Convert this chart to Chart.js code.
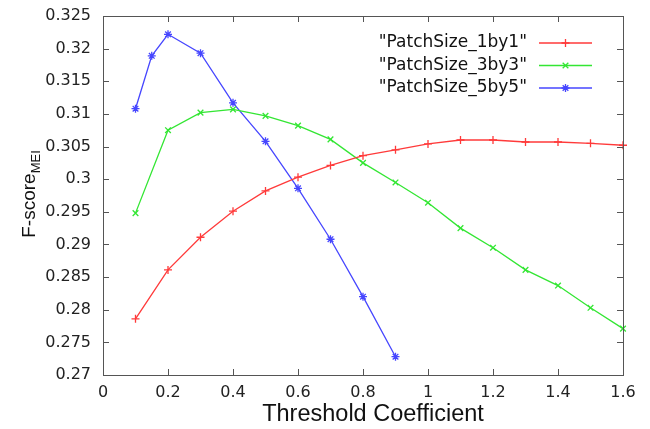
<!DOCTYPE html>
<html>
<head>
<meta charset="utf-8">
<script src="https://cdn.jsdelivr.net/npm/chart.js@4/dist/chart.umd.min.js"></script>
<style>
  html, body { margin: 0; padding: 0; background: #fff; }
</style>
</head>
<body>
<canvas id="chart" width="650" height="429"></canvas>
<script>
'use strict';
// values
var thresholds = [0.1, 0.2, 0.3, 0.4, 0.5, 0.6, 0.7, 0.8, 0.9, 1.0, 1.1, 1.2, 1.3, 1.4, 1.5, 1.6];
var patch1by1 = [0.2786, 0.2861, 0.2911, 0.2951, 0.2982, 0.3003, 0.3021, 0.3036, 0.3045, 0.3054, 0.3060, 0.3060, 0.3057, 0.3057, 0.3055, 0.3052];
var patch3by3 = [0.2948, 0.3075, 0.3102, 0.3107, 0.3097, 0.3082, 0.3061, 0.3025, 0.2995, 0.2964, 0.2925, 0.2895, 0.2861, 0.2837, 0.2803, 0.2771];
var thresholds5 = [0.1, 0.15, 0.2, 0.3, 0.4, 0.5, 0.6, 0.7, 0.8, 0.9];
var patch5by5 = [0.3108, 0.3189, 0.3222, 0.3193, 0.3117, 0.3058, 0.2986, 0.2908, 0.2820, 0.2728];
var seriesLabels = ['"PatchSize_1by1"', '"PatchSize_3by3"', '"PatchSize_5by5"'];
var xTitle = 'Threshold Coefficient';
var yTitle = 'F-score';
var yTitleSub = 'MEI';

function toPoints(xs, ys) {
    return xs.map((x, i) => ({ x: x, y: ys[i] }));
}

function fmt(v) {
    return String(+v.toFixed(4));
}

let makeSet = (label, xs, ys, color, style) => ({
    label: label,
    data: toPoints(xs, ys),
    showLine: true,
    borderColor: color,
    backgroundColor: color,
    borderWidth: 1.3,
    pointStyle: style,
    pointRadius: 4,
    pointBorderWidth: 1.3,
    clip: false
});

// box round the plot with inward ticks, axis titles and legend
const framePlugin = {
    id: 'frame',
    afterDraw(chart) {
        const ctx = chart.ctx;
        const a = chart.chartArea;
        const xs = chart.scales.x, ys = chart.scales.y;
        ctx.save();
        ctx.strokeStyle = '#555';
        ctx.lineWidth = 1;
        ctx.strokeRect(Math.round(a.left) + 0.5, Math.round(a.top) + 0.5,
            Math.round(a.right - a.left), Math.round(a.bottom - a.top));
        ctx.beginPath();
        xs.ticks.forEach(t => {
            let px = Math.round(xs.getPixelForValue(t.value)) + 0.5;
            ctx.moveTo(px, a.bottom); ctx.lineTo(px, a.bottom - 6);
            ctx.moveTo(px, a.top); ctx.lineTo(px, a.top + 6);
        });
        ys.ticks.forEach(t => {
            let py = Math.round(ys.getPixelForValue(t.value)) + 0.5;
            ctx.moveTo(a.left, py); ctx.lineTo(a.left + 6, py);
            ctx.moveTo(a.right, py); ctx.lineTo(a.right - 6, py);
        });
        ctx.stroke();

        // x title
        ctx.fillStyle = '#111';
        ctx.textAlign = 'center';
        ctx.textBaseline = 'middle';
        ctx.font = '23.5px "Liberation Sans", Arial, sans-serif';
        ctx.fillText(xTitle, 373, 415);

        // y title with subscript
        ctx.textAlign = 'left';
        ctx.textBaseline = 'alphabetic';
        ctx.translate(28, 194);
        ctx.rotate(-Math.PI / 2);
        ctx.font = '19px "Liberation Sans", Arial, sans-serif';
        let w1 = ctx.measureText(yTitle).width;
        ctx.font = '13px "Liberation Sans", Arial, sans-serif';
        let w2 = ctx.measureText(yTitleSub).width;
        let x0 = -(w1 + w2) / 2;
        ctx.font = '19px "Liberation Sans", Arial, sans-serif';
        ctx.fillText(yTitle, x0, 7);
        ctx.font = '13px "Liberation Sans", Arial, sans-serif';
        ctx.fillText(yTitleSub, x0 + w1, 12);
        ctx.restore();

        // legend inside the plot, text right aligned, sample on the right
        ctx.save();
        ctx.font = '17px "DejaVu Sans", sans-serif';
        ctx.textAlign = 'right';
        ctx.textBaseline = 'middle';
        chart.data.datasets.forEach((ds, i) => {
            let y = 43 + i * 22.5;
            ctx.fillStyle = '#111';
            ctx.fillText(ds.label, 527, y);
            ctx.strokeStyle = ds.borderColor;
            ctx.fillStyle = ds.borderColor;
            ctx.lineWidth = ds.borderWidth;
            ctx.beginPath();
            ctx.moveTo(539, y); ctx.lineTo(592, y);
            ctx.stroke();
            Chart.helpers.drawPoint(ctx, {
                pointStyle: ds.pointStyle, radius: ds.pointRadius, rotation: 0, borderWidth: ds.pointBorderWidth
            }, 565.5, y);
        });
        ctx.restore();
    }
};

let config = {
    type: 'scatter',
    data: {
        datasets: [
            makeSet(seriesLabels[0], thresholds, patch1by1, '#ff3a3a', 'cross'),
            makeSet(seriesLabels[1], thresholds, patch3by3, '#33e633', 'crossRot'),
            makeSet(seriesLabels[2], thresholds5, patch5by5, '#4646ff', 'star')
        ]
    },
    options: {
        responsive: false,
        animation: false,
        devicePixelRatio: 1,
        layout: { padding: { top: 16, right: 27, left: 0, bottom: 0 } },
        plugins: {
            legend: { display: false },
            tooltip: { enabled: false }
        },
        scales: {
            x: {
                type: 'linear',
                min: 0,
                max: 1.6,
                grid: { display: false },
                border: { display: false },
                ticks: {
                    stepSize: 0.2,
                    padding: 0,
                    color: '#222',
                    font: { family: '"DejaVu Sans", sans-serif', size: 16 },
                    maxRotation: 0,
                    callback: v => fmt(v)
                },
                afterFit: scale => { scale.height = 54; }
            },
            y: {
                min: 0.27,
                max: 0.325,
                grid: { display: false },
                border: { display: false },
                ticks: {
                    stepSize: 0.005,
                    padding: 4,
                    color: '#222',
                    font: { family: '"DejaVu Sans", sans-serif', size: 16 },
                    callback: v => fmt(v)
                },
                afterFit: scale => { scale.width = 103; }
            }
        }
    },
    plugins: [framePlugin]
};

new Chart(document.getElementById('chart').getContext('2d'), config);
</script>
</body>
</html>
